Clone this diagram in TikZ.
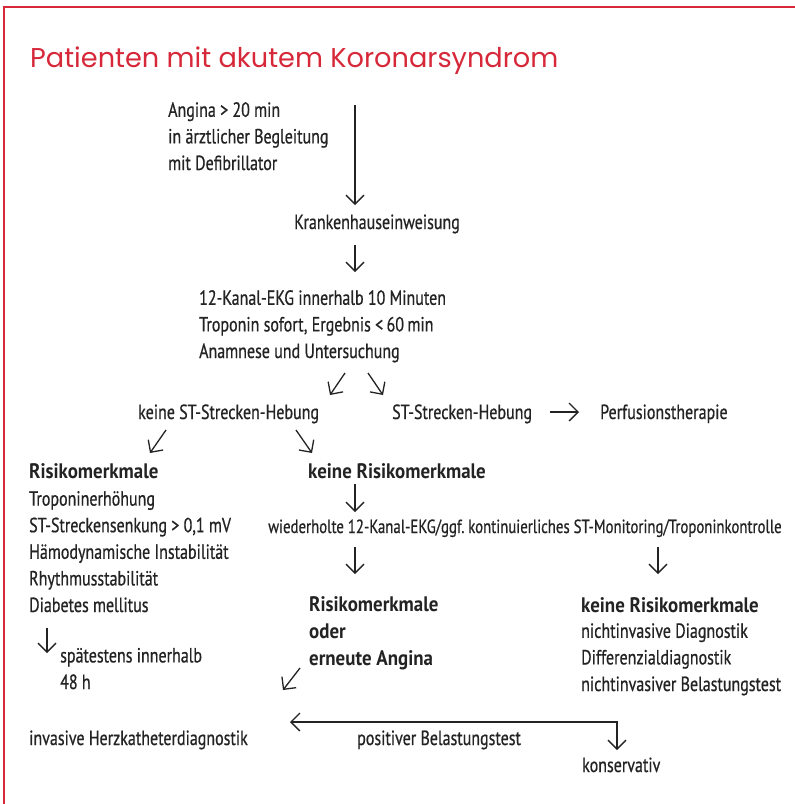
\documentclass[tikz,border=0pt]{standalone}
\usepackage{fontspec}
\setmainfont{PT Sans}[FakeStretch=0.78,FakeBold=0.6]
\newfontfamily\boldfont{PT Sans Bold}[FakeStretch=0.9]
\newfontfamily\titlefont{Poppins}
\usetikzlibrary{arrows.meta}
\definecolor{accred}{HTML}{D7283A}
\definecolor{ink}{HTML}{232323}
\begin{document}
\begin{tikzpicture}[x=1pt,y=-1pt,
  txt/.style={anchor=base west, inner sep=0pt, align=left, text=ink, font=\fontsize{20.5}{26.6}\selectfont},
  bld/.style={anchor=base west, inner sep=0pt, align=left, text=ink, font=\boldfont\fontsize{21}{26.6}\selectfont},
  arr/.style={draw=ink, line width=1.3pt, -{Straight Barb[length=9pt,width=18pt]}},
  arrboth/.style={draw=ink, line width=1.3pt, {Straight Barb[length=9pt,width=18pt]}-{Straight Barb[length=9pt,width=18pt]}}]
\useasboundingbox (0,0) rectangle (795,804);
\fill[white] (0,0) rectangle (795,804);
\draw[accred, line width=1.8pt] (4,804) -- (4,7) -- (795,7);

\node[anchor=base west, inner sep=0pt, text=accred, font=\titlefont\fontsize{27.2}{30}\selectfont] (title) at (30,67) {Patienten mit akutem Koronarsyndrom};

% multi-line nodes are placed at the baseline of their last line
\node[txt] (angina) at (168,170) {Angina > 20 min\\in ärztlicher Begleitung\\mit Defibrillator};
\node[txt] (kh) at (294,229) {Krankenhauseinweisung};
\node[txt] (ekg) at (199,358) {12-Kanal-EKG innerhalb 10 Minuten\\Troponin sofort, Ergebnis <\,60\,min\\Anamnese und Untersuchung};
\node[txt] (kst) at (138,419) {keine ST-Strecken-Hebung};
\node[txt] (st) at (392,419) {ST-Strecken-Hebung};
\node[txt] (perf) at (600,419) {Perfusionstherapie};
\node[bld] (risk) at (29,478) {Risikomerkmale};
\node[txt] (risklist) at (29,612) {Troponinerhöhung\\ST-Streckensenkung > 0,1 mV\\Hämodynamische Instabilität\\Rhythmusstabilität\\Diabetes mellitus};
\node[bld] (krisk) at (308,478) {keine Risikomerkmale};
\node[txt, font=\fontsize{19}{26.6}\selectfont] (wied) at (268,533) {wiederholte 12-Kanal-EKG/ggf.\hspace{-1.5pt} kontinuierliches ST-Monitoring/Troponinkontrolle};
\node[bld] (risk2) at (309,665) {Risikomerkmale\\oder\\erneute Angina};
\node[bld] (krisk2) at (581,612) {keine Risikomerkmale};
\node[txt] (klist) at (581,691) {nichtinvasive Diagnostik\\Differenzialdiagnostik\\nichtinvasiver Belastungstest};
\node[txt] (spaet) at (60,689) {spätestens innerhalb\\48 h};
\node[txt] (inv) at (29,745) {invasive Herzkatheterdiagnostik};
\node[txt] (pos) at (357,745) {positiver Belastungstest};
\node[txt] (kons) at (582,772) {konservativ};

\coordinate (a1s) at (355,105); \coordinate (a1e) at (355,205);
\coordinate (a2s) at (355,245); \coordinate (a2e) at (355,272);
\coordinate (a3s) at (345,373); \coordinate (a3e) at (330,395);
\coordinate (a4s) at (368,373); \coordinate (a4e) at (383,395);
\coordinate (a5s) at (550,412); \coordinate (a5e) at (579,412);
\coordinate (a6s) at (166,430); \coordinate (a6e) at (150,453);
\coordinate (a7s) at (296,430); \coordinate (a7e) at (312,453);
\coordinate (a8s) at (355,484); \coordinate (a8e) at (355,512);
\coordinate (a9s) at (355,547); \coordinate (a9e) at (355,574);
\coordinate (a10s) at (658,547); \coordinate (a10e) at (658,574);
\coordinate (a11s) at (47,628); \coordinate (a11e) at (47,653);
\coordinate (a12s) at (300,668); \coordinate (a12e) at (283,690);
\coordinate (b1) at (290,722); \coordinate (b2) at (617,722); \coordinate (b3) at (617,750);

\draw[arr] (a1s) -- (a1e);
\draw[arr] (a2s) -- (a2e);
\draw[arr] (a3s) -- (a3e);
\draw[arr] (a4s) -- (a4e);
\draw[arr] (a5s) -- (a5e);
\draw[arr] (a6s) -- (a6e);
\draw[arr] (a7s) -- (a7e);
\draw[arr] (a8s) -- (a8e);
\draw[arr] (a9s) -- (a9e);
\draw[arr] (a10s) -- (a10e);
\draw[arr] (a11s) -- (a11e);
\draw[arr] (a12s) -- (a12e);
\draw[arrboth] (b1) -- (b2) -- (b3);
\end{tikzpicture}
\end{document}
